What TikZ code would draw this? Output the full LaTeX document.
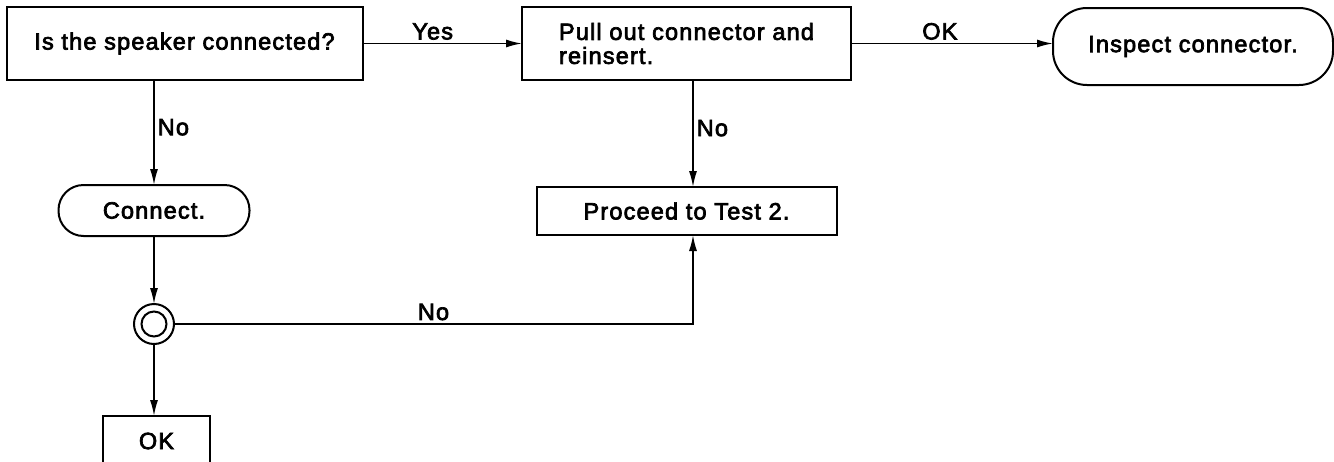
\documentclass[tikz,border=0pt]{standalone}
\usepackage{fontspec}
\setmainfont{Liberation Sans}[LetterSpace=5, FakeBold=3]
\usetikzlibrary{arrows.meta}

\begin{document}
\begin{tikzpicture}[
    x=1pt, y=-1pt,
    font=\fontsize{23.5}{24}\selectfont,
    box/.style={rectangle, draw, line width=2pt, inner sep=0pt, outer sep=0pt, align=center},
    term/.style={box, rounded corners=#1},
    arrow/.style={-{Latex[length=16pt, width=8pt]}, line width=1.6pt},
    lbl/.style={inner sep=3pt}
]
\useasboundingbox (0,0) rectangle (1334,461);

% Nodes
\node[box, minimum width=356pt, minimum height=73pt] (ask) at (184.5,43.5) {Is the speaker connected?};
\node[box, align=left, minimum width=329pt, minimum height=73pt] (pull) at (686.5,43.5) {Pull out connector and\\reinsert.};
\node[term=34pt, minimum width=280pt, minimum height=77pt] (insp) at (1193,46.5) {Inspect connector.};
\node[term=25pt, minimum width=191pt, minimum height=51pt] (cnct) at (154,210.5) {Connect.};
\node[box, minimum width=300pt, minimum height=48pt] (proc) at (686.5,211) {Proceed to Test 2.};
\node[box, minimum width=107pt, minimum height=50pt] (ok) at (156.5,441) {OK};

% Junction
\node[circle, draw, line width=2pt, minimum size=40pt, inner sep=0pt, outer sep=0pt] (jn) at (154,324) {};
\draw[line width=2pt] (jn.center) circle[radius=12.5pt];

% Arrows
\draw[arrow] (ask) -- node[lbl, above, pos=0.44] {Yes} (pull);
\draw[arrow] (pull.east) -- node[lbl, above, pos=0.44] {OK} (pull.east -| insp.west);
\draw[arrow] (cnct.north |- ask.south) -- node[lbl, right, pos=0.45] {No} (cnct.north);
\draw[arrow] ([xshift=6.5pt]pull.south) -- node[lbl, right, pos=0.45] {No} ([xshift=6.5pt]proc.north);
\draw[arrow] (cnct) -- (jn);
\draw[arrow] (jn.east) -| node[lbl, above, pos=0.25] {No} ([xshift=6.5pt]proc.south);
\draw[arrow] (jn.south) -- (jn.south |- ok.north);

\end{tikzpicture}
\end{document}
